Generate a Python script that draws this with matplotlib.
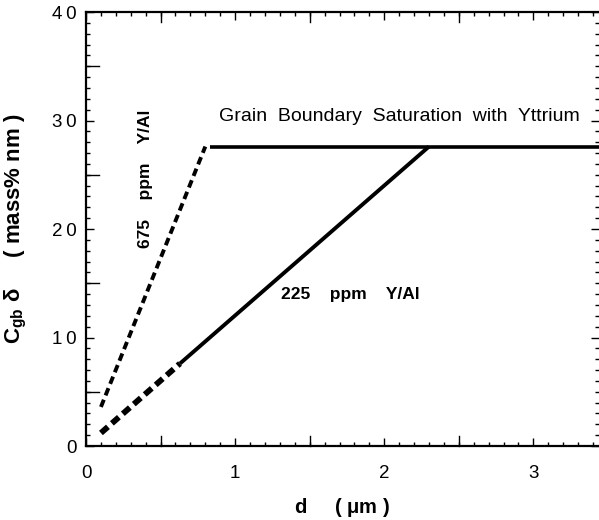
import numpy as np
import matplotlib.pyplot as plt
from matplotlib.ticker import MultipleLocator

plt.rcParams['font.family'] = ['Liberation Sans', 'DejaVu Sans']

# 675 ppm Y/Al (dashed, linear rise)
d_675 = [0.10, 0.80]
c_675 = [3.6, 27.6]
# 225 ppm Y/Al: dashed part then solid part
d_225_dash = [0.10, 0.63]
c_225_dash = [1.2, 7.6]
d_225_solid = [0.63, 2.30]
c_225_solid = [7.6, 27.6]
# saturation plateau
d_sat = [0.83, 3.5]
c_sat = [27.6, 27.6]

x_ticks = [0, 1, 2, 3]
y_ticks = [0, 10, 20, 30, 40]

fig = plt.figure(figsize=(5.99, 5.20), dpi=100)
ax = fig.add_axes([0.1436, 0.1423, 0.8564, 0.8346])

ax.plot(d_675, c_675, color='black', lw=2.8, ls=(0, (2.0, 1.2)))
ax.plot(d_225_dash, c_225_dash, color='black', lw=4.2, ls=(0, (1.6, 0.9)))
ax.plot(d_225_solid, c_225_solid, color='black', lw=2.8, solid_capstyle='butt')
ax.plot(d_sat, c_sat, color='black', lw=2.6, solid_capstyle='butt')

ax.set_xlim(0, 3.44)
ax.set_ylim(0, 40)
ax.set_xticks(x_ticks)
ax.set_xticklabels([str(v) for v in x_ticks])
ax.set_yticks(y_ticks)
ax.set_yticklabels(['\u2009'.join(str(v)) for v in y_ticks])
ax.xaxis.set_minor_locator(MultipleLocator(0.1))
ax.yaxis.set_minor_locator(MultipleLocator(1))
ax.tick_params(which='both', direction='in', top=True, right=True, labelsize=13.5, width=1)
ax.tick_params(which='major', length=6)
ax.tick_params(axis='x', which='major', pad=14)
ax.tick_params(axis='y', which='major', pad=7)
ax.tick_params(which='minor', length=3)
# medium ticks at halves / fives
for v in np.arange(0.5, 3.5, 1.0):
    ax.plot([v, v], [0, 0.9], color='black', lw=1, clip_on=False)
    ax.plot([v, v], [40, 39.1], color='black', lw=1, clip_on=False)
for v in [5, 15, 25, 35]:
    ax.plot([0, 0.09], [v, v], color='black', lw=1, clip_on=False)

for s in ['left', 'bottom', 'top']:
    ax.spines[s].set_linewidth(1.6)
ax.spines['right'].set_visible(False)

ax.text(0.89, 30.4, 'Grain  Boundary  Saturation  with  Yttrium', fontsize=14, va='center', ha='left')
ax.text(0.40, 24.6, '675    ppm    Y/Al', fontsize=12.5, fontweight='bold', rotation=90, ha='center', va='center')
ax.text(1.31, 14.0, '225    ppm    Y/Al', fontsize=12.5, fontweight='bold', ha='left', va='center')

ax.set_xlabel(r'd     ( $\mathregular{\mu}$m )', fontsize=14.5, fontweight='bold', labelpad=10)
ax.set_ylabel(r'C$_\mathregular{gb}$ $\mathregular{\delta}$     ( mass% nm )', fontsize=16,
              fontweight='bold', labelpad=16)

fig.savefig('out.png', dpi=100)
